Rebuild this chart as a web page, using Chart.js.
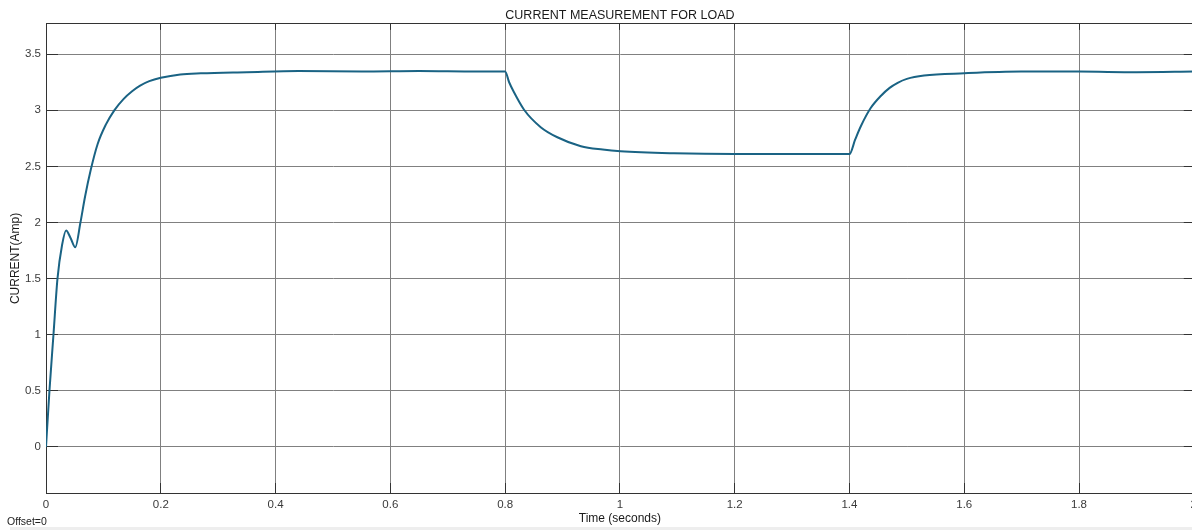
<!DOCTYPE html>
<html>
<head>
<meta charset="utf-8">
<script src="https://cdn.jsdelivr.net/npm/chart.js@4"></script>
<style>
    html, body { margin: 0; padding: 0; background: #fff; overflow: hidden; }
    #wrap { position: relative; width: 1192px; height: 530px; overflow: hidden; }
    #loadCurrent { position: absolute; left: 0; top: 0; }
    #offset { position: absolute; left: 7px; top: 515px; font: 10.5px "Liberation Sans", Arial, sans-serif; color: #222; }
    #strip { position: absolute; left: 10px; right: 0; top: 527px; height: 3px; background: #eeeeee; }
</style>
</head>
<body>
<div id="wrap">
    <canvas id="loadCurrent" width="1212" height="530"></canvas>
    <div id="strip"></div>
    <div id="offset">Offset=0</div>
</div>
<script>
// Scope trace
const timeSec = [
    0, 0.006, 0.013, 0.020, 0.028, 0.035, 0.043, 0.051, 0.060, 0.068,
    0.078, 0.090, 0.104, 0.119, 0.135, 0.150, 0.164, 0.180, 0.2, 0.234,
    0.27, 0.35, 0.44, 0.55, 0.65, 0.75, 0.8, 0.807, 0.815, 0.833,
    0.862, 0.891, 0.932, 0.97, 1.001, 1.094, 1.2, 1.3, 1.4, 1.41,
    1.420, 1.437, 1.455, 1.470, 1.484, 1.500, 1.530, 1.600, 1.699, 1.8,
    1.9, 2.0
];
const currentAmp = [
    0, 0.5, 1.0, 1.5, 1.80, 1.93, 1.86, 1.78, 2.0, 2.23,
    2.47, 2.70, 2.87, 3.0, 3.10, 3.17, 3.22, 3.26, 3.29, 3.32,
    3.33, 3.34, 3.35, 3.345, 3.35, 3.345, 3.345, 3.25, 3.165, 3.005,
    2.85, 2.76, 2.68, 2.65, 2.635, 2.617, 2.61, 2.61, 2.61, 2.74,
    2.86, 3.02, 3.13, 3.20, 3.245, 3.28, 3.31, 3.33, 3.345, 3.345,
    3.34, 3.345
];
const xTicks = [0, 0.2, 0.4, 0.6, 0.8, 1, 1.2, 1.4, 1.6, 1.8, 2];
const yTicks = [0, 0.5, 1, 1.5, 2, 2.5, 3, 3.5];

const fontFamily = '"Liberation Sans", Arial, sans-serif';
const gridColor = '#808080';
const frameColor = '#333333';

const tracePoints = timeSec.map((t, i) => ({ x: t, y: currentAmp[i] }));

//Fixed sizes so the plot box lands where the scope draws it
const fixWidth = (w) => (scale) => { scale.width = w; };
const fixHeight = (h) => (scale) => { scale.height = h; };
const useTicks = (list) => (scale) => { scale.ticks = list.map(v => ({ value: v })); };

const loadCurrentConfig = {
    type: 'line',
    data: {
        datasets: [
            {
                label: 'Current',
                data: tracePoints,
                borderColor: '#1a6384',
                borderWidth: 2,
                pointRadius: 0,
                cubicInterpolationMode: 'monotone',
                fill: false
            }
        ]
    },
    options: {
        responsive: false,
        animation: false,
        layout: { padding: 0 },
        plugins: {
            legend: { display: false },
            tooltip: { enabled: false },
            title: { display: false }
        },
        scales: {
            x: {
                type: 'linear',
                position: 'bottom',
                min: 0,
                max: 2,
                afterBuildTicks: useTicks(xTicks),
                afterFit: fixHeight(37),
                grid: {
                    color: gridColor,
                    lineWidth: 1,
                    drawTicks: true,
                    tickLength: -10,
                    tickColor: frameColor
                },
                border: { display: true, color: frameColor, width: 1 },
                ticks: {
                    autoSkip: false,
                    maxRotation: 0,
                    padding: 15,
                    color: '#3a3a3a',
                    font: { family: fontFamily, size: 11.5 },
                    callback: (v) => String(v)
                },
                title: {
                    display: true,
                    text: 'Time (seconds)',
                    color: '#1a1a1a',
                    font: { family: fontFamily, size: 12 },
                    padding: { top: 0, bottom: 4 }
                }
            },
            // top frame, carries the plot title so it centres on the axes
            xTop: {
                type: 'linear',
                position: 'top',
                min: 0,
                max: 2,
                afterBuildTicks: useTicks(xTicks),
                afterFit: fixHeight(22),
                grid: {
                    drawOnChartArea: false,
                    drawTicks: true,
                    tickLength: -6,
                    tickColor: frameColor
                },
                border: { display: true, color: frameColor, width: 1 },
                ticks: { display: false },
                title: {
                    display: true,
                    text: 'CURRENT MEASUREMENT FOR LOAD',
                    color: '#1a1a1a',
                    font: { family: fontFamily, size: 12.5 },
                    padding: { top: 6.5, bottom: 0 }
                }
            },
            y: {
                type: 'linear',
                position: 'left',
                min: -0.41,
                max: 3.77,
                afterBuildTicks: useTicks(yTicks),
                afterFit: fixWidth(46),
                grid: {
                    color: gridColor,
                    lineWidth: 1,
                    drawTicks: true,
                    tickLength: -12,
                    tickColor: frameColor
                },
                border: { display: true, color: frameColor, width: 1 },
                ticks: {
                    autoSkip: false,
                    padding: 17,
                    color: '#3a3a3a',
                    font: { family: fontFamily, size: 11.5 },
                    callback: (v) => String(v)
                },
                title: {
                    display: true,
                    text: 'CURRENT(Amp)',
                    color: '#1a1a1a',
                    font: { family: fontFamily, size: 12 },
                    padding: { top: 8, bottom: 0 }
                }
            },
            yRight: {
                type: 'linear',
                position: 'right',
                min: -0.41,
                max: 3.77,
                afterBuildTicks: useTicks(yTicks),
                afterFit: fixWidth(0),
                grid: {
                    drawOnChartArea: false,
                    drawTicks: true,
                    tickLength: -10,
                    tickColor: frameColor
                },
                border: { display: true, color: frameColor, width: 1 },
                ticks: { display: false }
            }
        }
    }
};

const loadCurrentChart = new Chart(document.getElementById('loadCurrent'), loadCurrentConfig);
</script>
</body>
</html>
